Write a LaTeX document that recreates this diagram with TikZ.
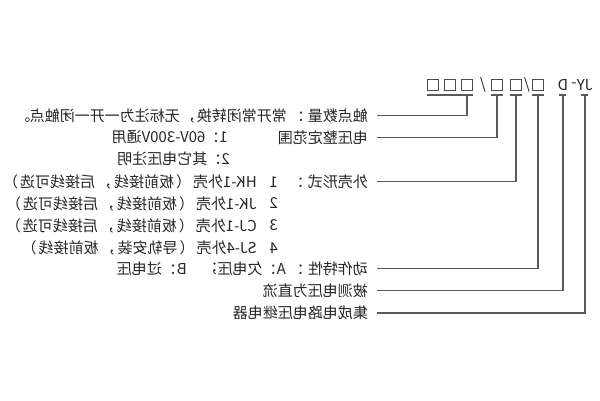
\documentclass[tikz,border=0pt]{standalone}
\usepackage{fontspec}
\setmainfont{Noto Sans CJK SC}
\newcommand\pu[2][19pt]{\makebox[#1]{#2}}

\begin{document}
\begin{tikzpicture}[x=1pt,y=-1pt,xscale=-1,
	every node/.style={transform shape,inner sep=0pt,text=black!85,font=\fontsize{15}{18}\selectfont},
	cell/.style={draw=black!70,line width=0.8pt,minimum size=11.5pt},
	bar/.style={draw=black!65,line width=1.1pt},
	lead/.style={draw=black!65,line width=1.1pt,shorten >=9pt}]
	\useasboundingbox (0,0) rectangle (600,400);
	\def\yc{85}
	\coordinate (ul) at (0,95);

	% model code
	\node (jy) at (15,\yc) {JY};
	\node (dash) at (26,\yc) {-};
	\node (dd) at (37,\yc) {D};
	\node[cell] (f) at (62,\yc) {};
	\node (s1) at (73,\yc) {/};
	\node[cell] (e) at (84,\yc) {};
	\node[cell] (d) at (103,\yc) {};
	\node (s2) at (117,\yc) {/};
	\node[cell] (c) at (133,\yc) {};
	\node[cell] (b) at (150,\yc) {};
	\node[cell] (a) at (167,\yc) {};

	% labels
	\node[anchor=west] (l1) at (232,115.7) {触点数量\pu[21pt]{：}常开常闭转换\pu[17pt]{，}无标注为一开一闭触点\pu[14pt]{。}};
	\node[anchor=west] (l2) at (232,137.5) {电压整定范围};
	\node[anchor=west] (v1) at (372,137.5) {1\pu[14pt]{：}60V-300V通用};
	\node[anchor=west] (v2) at (370,159) {2\pu[14pt]{：}其它电压注明};
	\node[anchor=west] (l4) at (232,181.7) {外壳形式\pu[22pt]{：}};
	\foreach \y/\t [count=\i] in {181.7/HK-1外壳\pu{（}板前接线\pu{，}后接线可选\pu{）},203.5/JK-1外壳\pu{（}板前接线\pu{，}后接线可选\pu{）},225.5/CJ-1外壳\pu{（}板前接线\pu{，}后接线可选\pu{）},248/SJ-4外壳\pu{（}导轨安装\pu{，}板前接线\pu{）}}{
		\node[anchor=west] (n\i) at (322,\y) {\i};
		\node[anchor=west] (k\i) at (343,\y) {\t};
	}
	\node[anchor=west] (l8) at (232,268.5) {动作特性\pu[22pt]{：}};
	\node[anchor=west] (a8) at (314,268.5) {A\pu[14pt]{：}欠电压};
	\node[anchor=west] (s8) at (382,268.5) {\pu[14pt]{；}};
	\node[anchor=west] (b8) at (413,268.5) {B\pu[15pt]{：}过电压};
	\node[anchor=west] (l9) at (232,290.5) {被测电压为直流};
	\node[anchor=west] (l10) at (232,313) {集成电路电压继电器};

	% underlines
	\draw[bar] (c.west |- ul) -- (a.east |- ul);
	\foreach \n in {d,e,f}
		\draw[bar] (\n.west |- ul) -- (\n.east |- ul);
	\foreach \n in {jy,dd}
		\draw[bar] ([xshift=-3.5pt]\n.south |- ul) -- ([xshift=3.5pt]\n.south |- ul);

	% leaders
	\foreach \n/\m in {c/l1,d/l2,e/l4,f/l8,dd/l9,jy/l10}
		\draw[lead] (\n.south |- ul) |- (\m.west);
\end{tikzpicture}
\end{document}
